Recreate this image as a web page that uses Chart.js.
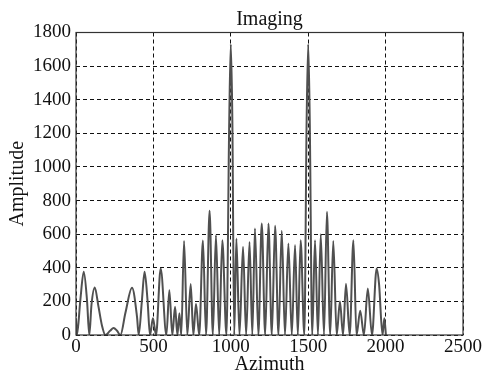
<!DOCTYPE html>
<html>
<head>
<meta charset="utf-8">
<script src="https://cdn.jsdelivr.net/npm/chart.js@4/dist/chart.umd.min.js"></script>
<style>
  html, body { margin: 0; padding: 0; background: #fff; }
  #wrap { width: 484px; height: 373px; }
</style>
</head>
<body>
<div id="wrap"><canvas id="imaging" width="484" height="373"></canvas></div>
<script>
// Values (azimuth / amplitude)
const azimuth = [
  0, 6, 28, 50, 71, 86, 100, 121, 145, 168, 190, 220, 243, 265, 287,
  319, 362, 394, 405, 426, 443, 462, 478, 497, 517, 547, 584, 603, 622,
  640, 655, 668, 680, 698, 719, 741, 758, 775, 796, 820, 840, 863, 884,
  904, 925, 945, 972, 990, 1000, 1010, 1022,
  1036, 1056, 1079, 1099, 1121, 1139, 1156, 1178, 1200, 1222, 1243, 1265,
  1286, 1308, 1329, 1350, 1372, 1394, 1415, 1433, 1451, 1475,
  1490, 1500, 1510, 1526,
  1544, 1563, 1581, 1602, 1621, 1642, 1662, 1684, 1705, 1725, 1744, 1768,
  1792, 1812, 1836, 1860, 1885, 1912, 1942, 1958, 1980, 1992, 2002
];
const amplitude = [
  100, 0, 208, 376, 208, 0, 180, 283, 170, 55, 0, 25, 42, 25, 0,
  131, 281, 109, 0, 208, 376, 208, 0, 100, 0, 396, 0, 267, 0,
  168, 0, 130, 0, 560, 0, 303, 0, 185, 0, 562, 0, 740, 0,
  594, 0, 564, 0, 1280, 1730, 1280, 0,
  574, 0, 525, 0, 554, 0, 634, 0, 664, 0, 664, 0,
  650, 0, 620, 0, 545, 0, 535, 0, 564, 0,
  1280, 1730, 1280, 0,
  564, 0, 600, 0, 733, 0, 560, 0, 200, 0, 305, 0,
  564, 0, 145, 0, 277, 0, 396, 300, 0, 99, 0
];
const xTicks = [0, 500, 1000, 1500, 2000, 2500];
const yTicks = [0, 200, 400, 600, 800, 1000, 1200, 1400, 1600, 1800];

const serif = "'Liberation Serif', 'DejaVu Serif', serif";

// solid frame round the plot area
const framePlugin = {
  id: 'frame',
  afterDraw(chart) {
    const { ctx, chartArea: a } = chart;
    ctx.save();
    ctx.strokeStyle = '#333';
    ctx.lineWidth = 1.2;
    ctx.strokeRect(a.left, a.top, a.right - a.left, a.bottom - a.top);
    ctx.restore();
  }
};

const points = azimuth.map((x, i) => ({ x: x, y: amplitude[i] }));

new Chart(document.getElementById('imaging'), {
  type: 'line',
  data: {
    datasets: [{
      data: points,
      borderColor: '#505050',
      borderWidth: 2,
      pointRadius: 0,
      cubicInterpolationMode: 'monotone',
      fill: false
    }]
  },
  options: {
    responsive: false,
    animation: false,
    layout: { padding: { left: 0, right: 21, top: 0, bottom: 0 } },
    plugins: {
      legend: { display: false },
      tooltip: { enabled: false },
      title: {
        display: true,
        text: 'Imaging',
        fullSize: false,
        color: '#111',
        font: { family: serif, size: 20, weight: 'normal' },
        padding: { top: 8, bottom: 0.5 }
      }
    },
    scales: {
      x: {
        type: 'linear',
        min: 0,
        max: 2500,
        afterBuildTicks: s => { s.ticks = xTicks.map(v => ({ value: v })); },
        afterFit: s => { s.height = 38; },
        ticks: {
          color: '#111',
          padding: 1,
          maxRotation: 0,
          font: { family: serif, size: 19 },
          callback: v => String(v)
        },
        grid: { color: '#111', lineWidth: 1, drawTicks: false },
        border: { display: false, dash: [4, 3] },
        title: {
          display: true,
          text: 'Azimuth',
          color: '#111',
          font: { family: serif, size: 20, lineHeight: 1 },
          padding: { top: 0, bottom: -2 }
        }
      },
      y: {
        type: 'linear',
        min: 0,
        max: 1800,
        afterBuildTicks: s => { s.ticks = yTicks.map(v => ({ value: v })); },
        afterFit: s => { s.width = 76; },
        ticks: {
          color: '#111',
          padding: 5,
          font: { family: serif, size: 19 },
          callback: v => String(v)
        },
        grid: { color: '#111', lineWidth: 1, drawTicks: false },
        border: { display: false, dash: [4, 3] },
        title: {
          display: true,
          text: 'Amplitude',
          color: '#111',
          font: { family: serif, size: 20, lineHeight: 1 },
          padding: { top: 8, bottom: 0 }
        }
      }
    }
  },
  plugins: [framePlugin]
});
</script>
</body>
</html>
